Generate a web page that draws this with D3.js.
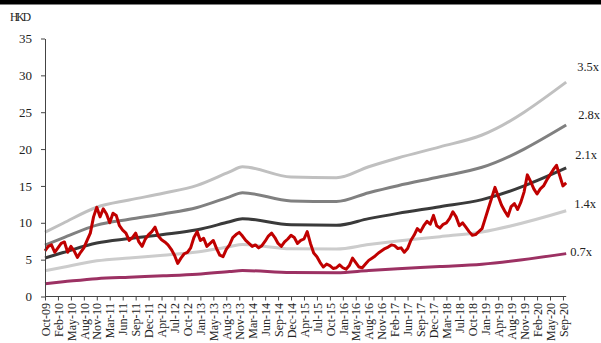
<!DOCTYPE html>
<html><head><meta charset="utf-8">
<script src="https://cdn.jsdelivr.net/npm/d3@7/dist/d3.min.js"></script>
<style>
body{margin:0;background:#fff;}
svg{display:block;}
text{font-family:"Liberation Serif","DejaVu Serif",serif;fill:#222;}
</style></head>
<body>
<svg id="c" width="601" height="343"></svg>
<script>
const tickLabels = ["Oct-09","Feb-10","May-10","Aug-10","Nov-10","Mar-11","Jun-11","Sep-11","Dec-11","Apr-12",
"Jul-12","Oct-12","Jan-13","May-13","Aug-13","Nov-13","Mar-14","Jun-14","Sep-14","Dec-14",
"Apr-15","Jul-15","Oct-15","Jan-16","May-16","Aug-16","Nov-16","Feb-17","Jun-17","Sep-17",
"Dec-17","Mar-18","Jul-18","Oct-18","Jan-19","Apr-19","Aug-19","Nov-19","Feb-20","May-20","Sep-20"];
// share price (HKD), sampled every quarter of a label interval
const price = [6.2,6.8,7.0,6.0,6.6,7.2,7.4,6.0,6.8,6.2,5.3,6.0,6.6,7.6,8.6,10.8,12.1,10.8,11.9,11.2,
10.0,11.3,11.0,9.6,9.0,8.6,7.6,8.0,8.6,7.4,6.8,7.8,8.4,8.8,9.4,8.2,7.7,7.4,7.0,6.4,
5.6,4.5,5.2,5.8,6.0,6.6,8.0,8.8,7.6,7.9,6.8,7.2,7.6,6.5,5.6,5.4,6.4,7.0,8.0,8.4,
8.7,8.2,7.6,7.2,6.8,7.0,6.6,6.9,7.5,8.2,8.6,8.0,7.2,6.8,7.4,7.8,8.3,8.0,7.2,7.6,
7.8,8.8,7.2,5.9,5.4,4.6,4.0,4.4,4.2,3.8,3.9,4.3,3.9,3.7,4.2,5.2,4.6,4.0,3.9,4.4,
4.9,5.2,5.5,5.9,6.2,6.5,6.7,7.0,6.9,6.5,6.6,6.0,6.5,7.6,8.3,9.2,8.8,9.6,10.2,9.8,
11.0,9.6,9.3,9.8,10.0,10.6,11.5,10.8,9.6,10.0,9.4,8.8,8.3,8.4,8.8,9.2,10.6,12.0,13.4,14.8,
13.6,12.4,11.6,10.9,12.2,12.6,11.8,12.8,14.2,16.5,15.6,14.6,13.9,14.6,15.0,15.8,16.5,17.2,17.8,16.4,
15.0,15.4];
// book value per share (HKD) at sample positions
const bookIdx = [0,5.6,16,26,36.5,47,57,61,76,90,100,109,122,135,161];
const bookVal = [2.49,2.84,3.46,3.74,4.0,4.31,4.83,5.03,4.63,4.6,5.03,5.37,5.8,6.26,8.31];
const multiples = [3.5,2.8,2.1,1.4,0.7];
const bandNames = ["3.5x","2.8x","2.1x","1.4x","0.7x"];
const bandColors = ["#c0c0c0","#808080","#3a3a3a","#cccccc","#9c3163"];
const labelDx = [11,12,9,8,4];
const labelDy = [-14,-9,-12,-6,0];

const svg = d3.select("#c");
svg.append("rect").attr("x",0).attr("y",0).attr("width",601).attr("height",4.5).attr("fill","#000");

const x = d3.scaleLinear().domain([0, price.length-1]).range([45, 566.2]);
const y = d3.scaleLinear().domain([0,35]).range([296.5, 38.5]);

const bookPts = bookIdx.map((d,i)=>({i:d, v:bookVal[i]}));
multiples.forEach((m,k)=>{
  const line = d3.line().x(d=>x(d.i)).y(d=>y(d.v*m)).curve(d3.curveMonotoneX);
  svg.append("path").datum(bookPts).attr("d",line).attr("fill","none")
    .attr("stroke",bandColors[k]).attr("stroke-width",3);
  const last = bookPts[bookPts.length-1];
  svg.append("text").attr("x",x(last.i)+labelDx[k]).attr("y",y(last.v*m)+labelDy[k])
    .attr("dominant-baseline","middle").attr("font-size",12.5).text(bandNames[k]);
});

const pl = d3.line().x((d,i)=>x(i)).y(d=>y(d));
svg.append("path").datum(price).attr("d",pl).attr("fill","none")
  .attr("stroke","#c00000").attr("stroke-width",3).attr("stroke-linejoin","round");

const yAxis = d3.axisLeft(y).tickValues(d3.range(0,36,5)).tickSize(4).tickSizeOuter(0).tickPadding(9);
const gy = svg.append("g").attr("transform","translate(45,0)").call(yAxis);
gy.selectAll("text").attr("font-size",13).style("font-family","'Liberation Serif',serif").attr("fill","#333");
gy.select(".domain").attr("stroke","#444");
gy.selectAll(".tick line").attr("stroke","#444");

const xAxis = d3.axisBottom(x).tickValues(d3.range(tickLabels.length).map(k=>k*4))
  .tickFormat((d,i)=>tickLabels[i]).tickSize(4).tickSizeOuter(0);
const gx = svg.append("g").attr("transform","translate(0,296.5)").call(xAxis);
gx.select(".domain").attr("stroke","#444").attr("d","M45,0H566.2");
gx.selectAll(".tick line").attr("stroke","#444");
gx.selectAll("text").attr("font-size",12).style("font-family","'Liberation Serif',serif").attr("fill","#333")
  .attr("text-anchor","end").attr("dy","0.35em")
  .attr("transform","translate(0,6.5) rotate(-90)").attr("x",0).attr("y",0);

svg.append("text").attr("x",10).attr("y",21).attr("font-size",11.5).attr("textLength",21).text("HKD");
</script>
</body></html>
